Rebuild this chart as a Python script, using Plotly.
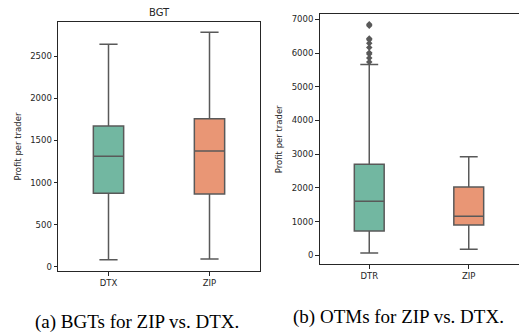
import plotly.graph_objects as go

# ---- data ----
bgt_categories = ["DTX", "ZIP"]
bgt_lower = [83, 91]
bgt_q1 = [872, 864]
bgt_median = [1312, 1375]
bgt_q3 = [1672, 1759]
bgt_upper = [2643, 2785]

otm_categories = ["DTR", "ZIP"]
otm_lower = [68, 178]
otm_q1 = [721, 899]
otm_median = [1602, 1157]
otm_q3 = [2699, 2026]
otm_upper = [5660, 2925]
otm_outlier_values = [6850, 6810, 6430, 6390, 6290, 6160, 6010, 5970, 5850, 5730]
otm_outlier_cat = ["DTR"] * len(otm_outlier_values)

colors = ["#72b7a1", "#e99675"]
line_col = "#595959"
W, H = 519, 333

fig = go.Figure()

for i in range(2):
    fig.add_trace(go.Box(
        x=[bgt_categories[i]], q1=[bgt_q1[i]], median=[bgt_median[i]], q3=[bgt_q3[i]],
        lowerfence=[bgt_lower[i]], upperfence=[bgt_upper[i]],
        fillcolor=colors[i], line=dict(color=line_col, width=1.5),
        width=0.3, whiskerwidth=0.6, boxpoints=False, showlegend=False,
        xaxis="x", yaxis="y"))
    fig.add_trace(go.Box(
        x=[otm_categories[i]], q1=[otm_q1[i]], median=[otm_median[i]], q3=[otm_q3[i]],
        lowerfence=[otm_lower[i]], upperfence=[otm_upper[i]],
        fillcolor=colors[i], line=dict(color=line_col, width=1.5),
        width=0.3, whiskerwidth=0.6, boxpoints=False, showlegend=False,
        xaxis="x2", yaxis="y2"))

fig.add_trace(go.Scatter(
    x=otm_outlier_cat, y=otm_outlier_values, mode="markers",
    marker=dict(symbol="diamond", size=5, color=line_col),
    showlegend=False, xaxis="x2", yaxis="y2"))

tickfont = dict(family="DejaVu Sans", size=8.5, color="#262626")
axis_common = dict(showline=True, linecolor="#262626", linewidth=1, mirror=True,
                   ticks="outside", ticklen=3.5, tickwidth=0.8, tickcolor="#262626",
                   showgrid=False, zeroline=False, tickfont=tickfont)

fig.update_layout(
    width=W, height=H, margin=dict(l=0, r=0, t=0, b=0),
    paper_bgcolor="white", plot_bgcolor="white",
    xaxis=dict(domain=[58 / W, 260 / W], anchor="y", type="category",
               categoryorder="array", categoryarray=bgt_categories,
               range=[-0.5, 1.5], **axis_common),
    yaxis=dict(domain=[(H - 271) / H, (H - 22) / H], anchor="x",
               range=[-51, 2908], tickvals=[0, 500, 1000, 1500, 2000, 2500],
               title=dict(text="Profit per trader", font=dict(family="DejaVu Sans", size=8.5, color="#262626"),
                          standoff=7),
               **axis_common),
    xaxis2=dict(domain=[319.5 / W, 518.5 / W], anchor="y2", type="category",
                categoryorder="array", categoryarray=otm_categories,
                range=[-0.5, 1.5], **axis_common),
    yaxis2=dict(domain=[(H - 264.3) / H, (H - 14.3) / H], anchor="x2",
                range=[-267, 7148], tickvals=[0, 1000, 2000, 3000, 4000, 5000, 6000, 7000],
                title=dict(text="Profit per trader", font=dict(family="DejaVu Sans", size=8.5, color="#262626"),
                           standoff=7),
                **axis_common),
    annotations=[
        dict(text="BGT", x=159 / W, y=(H - 12.7) / H, xref="paper", yref="paper",
             showarrow=False, font=dict(family="DejaVu Sans", size=10, color="#262626"),
             xanchor="center", yanchor="middle"),
        dict(text="(a) BGTs for ZIP vs. DTX.", x=137 / W, y=(H - 321.5) / H, xref="paper", yref="paper",
             showarrow=False, font=dict(family="Liberation Serif", size=19, color="black"),
             xanchor="center", yanchor="middle"),
        dict(text="(b) OTMs for ZIP vs. DTX.", x=398 / W, y=(H - 316.7) / H, xref="paper", yref="paper",
             showarrow=False, font=dict(family="Liberation Serif", size=19, color="black"),
             xanchor="center", yanchor="middle"),
    ],
)

fig.write_html("out.html")
